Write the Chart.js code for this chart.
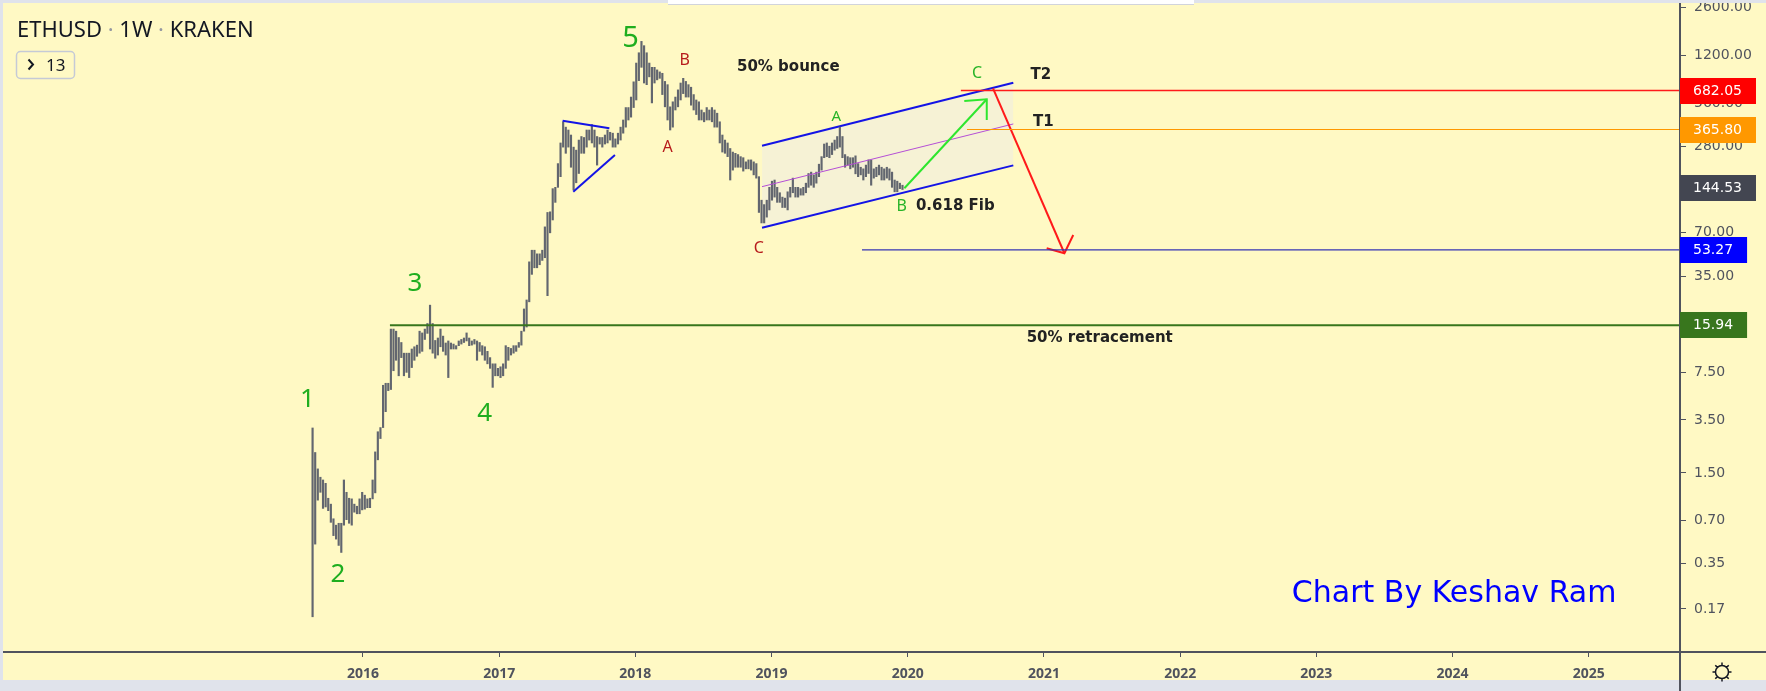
<!DOCTYPE html>
<html>
<head>
<meta charset="utf-8">
<title>ETHUSD 1W KRAKEN</title>
<script src="https://cdn.jsdelivr.net/npm/chart.js@4.4.1/dist/chart.umd.min.js"></script>
<style>
  html, body { margin: 0; padding: 0; background: #e0e3eb; }
  #wrap { position: relative; width: 1766px; height: 691px; }
</style>
</head>
<body>
<div id="wrap"><canvas id="eth"></canvas></div>
<script>
// weekly ETHUSD bars (Kraken), low / high
var weekLows = [
  0.15, 0.48, 0.97, 1.1, 0.85, 0.87, 0.82, 0.68, 0.55, 0.52,
  0.47, 0.42, 0.65, 0.71, 0.67, 0.65, 0.8, 0.78, 0.78, 0.83,
  0.84, 0.86, 0.86, 0.99, 1.09, 1.85, 2.6, 3.1, 4.0, 5.6,
  5.7, 7.7, 9.1, 7.1, 9.5, 7.1, 7.5, 6.9, 8.1, 9.1,
  9.7, 10.2, 10.5, 12.7, 14.0, 10.9, 10.2, 9.4, 9.9, 11.3,
  10.5, 9.9, 6.9, 10.9, 10.9, 10.9, 11.5, 11.8, 12.1, 12.4,
  11.5, 11.6, 11.8, 9.1, 10.5, 9.9, 9.1, 8.6, 8.0, 5.9,
  7.1, 7.1, 6.9, 7.1, 8.0, 9.1, 9.9, 10.2, 10.5, 11.2,
  11.6, 14.5, 15.5, 23.2, 36, 40, 40, 42, 45, 47,
  25.6, 70, 86, 114, 145, 172, 276, 250, 276, 200,
  139, 156, 181, 250, 250, 276, 309, 295, 276, 207,
  290, 276, 290, 295, 309, 276, 276, 290, 309, 345,
  380, 426, 446, 520, 587, 800, 990, 770, 750, 850,
  560, 770, 810, 830, 640, 526, 426, 363, 380, 500,
  526, 587, 650, 615, 615, 540, 500, 465, 426, 426,
  414, 426, 426, 414, 380, 380, 295, 255, 250, 237,
  163, 191, 200, 200, 200, 188, 195, 195, 191, 177,
  168, 97, 82, 82, 90, 101, 118, 124, 114, 114,
  105, 105, 101, 124, 133, 124, 124, 128, 128, 133,
  145, 150, 145, 155, 172, 191, 233, 237, 233, 245,
  263, 270, 276, 233, 200, 207, 195, 200, 180, 172,
  177, 163, 172, 181, 150, 168, 172, 177, 163, 163,
  168, 163, 145, 135, 135, 142, 140
];
var weekHighs = [
  3.08, 2.08, 1.6, 1.4, 1.34, 1.27, 1.0, 0.91, 0.72, 0.65,
  0.67, 0.67, 1.34, 1.1, 1.0, 0.99, 0.91, 0.88, 0.99, 1.1,
  1.05, 0.99, 1.0, 1.34, 2.1, 2.9, 3.1, 6.1, 6.3, 6.3,
  15.0, 15.0, 14.5, 13.1, 12.1, 10.2, 10.2, 10.2, 10.9, 11.3,
  11.6, 14.5, 14.1, 15.0, 16.4, 22.0, 16.4, 12.5, 13.0, 15.0,
  13.4, 12.0, 12.4, 12.0, 11.8, 11.5, 12.4, 12.7, 13.0, 14.1,
  13.0, 12.4, 12.7, 12.4, 12.1, 11.5, 11.3, 10.5, 9.5, 8.6,
  8.6, 8.0, 8.2, 8.6, 11.5, 11.2, 11.0, 11.5, 11.5, 12.1,
  14.5, 20.7, 23.9, 44, 53, 53, 50, 50, 53, 77,
  97, 98, 142, 145, 212, 295, 414, 380, 363, 335,
  276, 263, 309, 327, 322, 363, 363, 396, 363, 327,
  322, 322, 335, 363, 350, 345, 315, 345, 380, 426,
  520, 520, 615, 785, 1060, 1250, 1500, 1400, 1250, 1060,
  990, 990, 950, 920, 900, 790, 750, 526, 570, 615,
  690, 770, 830, 790, 750, 720, 640, 587, 570, 500,
  480, 520, 500, 520, 500, 475, 414, 335, 309, 295,
  270, 255, 250, 245, 237, 233, 218, 225, 225, 218,
  212, 172, 118, 110, 118, 145, 160, 163, 145, 133,
  124, 122, 135, 145, 168, 145, 145, 142, 145, 155,
  181, 185, 177, 185, 210, 237, 290, 295, 280, 295,
  309, 327, 380, 327, 245, 237, 233, 233, 240, 212,
  200, 195, 207, 225, 225, 195, 200, 207, 200, 195,
  200, 195, 185, 163, 160, 155, 150
];
var firstWeek = 2015.63;          // mid August 2015, first Kraken week
var weekStep = 7 / 365.25;

var yearTicks = [2016, 2017, 2018, 2019, 2020, 2021, 2022, 2023, 2024, 2025];
var priceTicks = [0.17, 0.35, 0.7, 1.5, 3.5, 7.5, 15, 35, 70, 140, 280, 560, 1200, 2600];

// price levels marked on the right scale
var levelValues = [682.05, 365.80, 144.53, 53.27, 15.94];
var levelColors = ['#ff0000', '#ff9800', '#434651', '#0000ff', '#38761d'];

// drawn lines, [year, price] pairs
var channelTop = [[2018.93, 282], [2020.775, 774]];
var channelBottom = [[2018.93, 76], [2020.775, 206]];
var channelMid = [[2018.93, 146.6], [2020.775, 400]];
var triangleTop = [[2017.466, 421], [2017.809, 373]];
var triangleBottom = [[2017.544, 135.2], [2017.85, 243]];
var greenArrow = [[2019.975, 142.8], [2020.58, 593.6]];
var greenHead = [[2020.415, 577.6], [2020.58, 593.6], [2020.58, 426]];
var redArrow = [[2020.626, 707.8], [2021.15, 50.5]];
var redHead = [[2021.02, 54.7], [2021.15, 50.5], [2021.215, 67.6]];
var lineT2 = [[2020.39, 682.05], [2025.67, 682.05]];
var lineT1 = [[2020.435, 365.80], [2025.67, 365.80]];
var lineLow = [[2019.664, 53.27], [2025.67, 53.27]];
var lineHalf = [[2016.198, 15.94], [2025.67, 15.94]];

var waveGreen = '#1fae1f';
var notes = [
  { text: '1', x: 2015.593, y: 4.86, color: waveGreen, font: '26px "Noto Sans"' },
  { text: '2', x: 2015.816, y: 0.293, color: waveGreen, font: '26px "Noto Sans"' },
  { text: '3', x: 2016.382, y: 30.9, color: waveGreen, font: '26px "Noto Sans"' },
  { text: '4', x: 2016.894, y: 3.85, color: waveGreen, font: '26px "Noto Sans"' },
  { text: '5', x: 2017.964, y: 1563, color: waveGreen, font: '29px "Noto Sans"' },
  { text: 'A', x: 2018.237, y: 274, color: '#b71c1c', font: '16px "Noto Sans"' },
  { text: 'B', x: 2018.362, y: 1104, color: '#b71c1c', font: '16px "Noto Sans"' },
  { text: 'C', x: 2018.907, y: 54.2, color: '#b71c1c', font: '16px "Noto Sans"' },
  { text: 'A', x: 2019.475, y: 449, color: '#28b428', font: '15px "Noto Sans"' },
  { text: 'B', x: 2019.955, y: 106.4, color: '#28b428', font: '16px "Noto Sans"' },
  { text: 'C', x: 2020.508, y: 904, color: '#28b428', font: '16px "Noto Sans"' },
  { text: '50% bounce', x: 2018.746, y: 1000, color: '#222', font: 'bold 15px "DejaVu Sans"', left: true },
  { text: '0.618 Fib', x: 2020.06, y: 108, color: '#222', font: 'bold 15px "DejaVu Sans"', left: true },
  { text: 'T2', x: 2020.902, y: 876, color: '#222', font: 'bold 15px "DejaVu Sans"', left: true },
  { text: 'T1', x: 2020.919, y: 414.6, color: '#222', font: 'bold 15px "DejaVu Sans"', left: true },
  { text: '50% retracement', x: 2020.873, y: 13.07, color: '#222', font: 'bold 15px "DejaVu Sans"', left: true },
  { text: 'Chart By Keshav Ram', x: 2022.82, y: 0.217, color: '#0000ff', font: '30px "DejaVu Sans"', left: true }
];

function pts(list) {
  return list.map(function (p) { return { x: p[0], y: p[1] }; });
}
function seg(list, color, width, extra) {
  var ds = {
    type: 'line', data: pts(list), borderColor: color, borderWidth: width,
    pointRadius: 0, fill: false, tension: 0, order: 1
  };
  for (var k in extra) ds[k] = extra[k];
  return ds;
}

var bars = [];
for (var i = 0; i < weekLows.length; i++) {
  bars.push({ x: firstWeek + i * weekStep, y: [weekLows[i], weekHighs[i]] });
}

var paneColor = '#fff9c4';
var frameColor = '#e0e3eb';
var axisColor = '#50535e';

var decor = {
  id: 'decor',
  beforeDraw: function (chart) {
    var ctx = chart.ctx;
    ctx.save();
    ctx.fillStyle = frameColor;
    ctx.fillRect(0, 0, chart.width, chart.height);
    ctx.fillStyle = paneColor;
    ctx.fillRect(3, 3, chart.width - 3, 677);
    ctx.restore();
  },
  afterDatasetsDraw: function (chart) {
    var ctx = chart.ctx, xs = chart.scales.x, ys = chart.scales.y;
    ctx.save();
    notes.forEach(function (n) {
      ctx.font = n.font;
      ctx.fillStyle = n.color;
      ctx.textAlign = n.left ? 'left' : 'center';
      ctx.textBaseline = 'middle';
      ctx.fillText(n.text, xs.getPixelForValue(n.x), ys.getPixelForValue(n.y));
    });
    ctx.restore();
  },
  afterDraw: function (chart) {
    var ctx = chart.ctx, area = chart.chartArea, ys = chart.scales.y;
    ctx.save();
    // axis frame
    ctx.strokeStyle = axisColor;
    ctx.lineWidth = 2;
    ctx.beginPath();
    ctx.moveTo(area.right, 0);
    ctx.lineTo(area.right, chart.height);
    ctx.moveTo(3, area.bottom);
    ctx.lineTo(chart.width, area.bottom);
    ctx.stroke();

    // price level tags
    ctx.font = '14px "DejaVu Sans"';
    ctx.textBaseline = 'middle';
    ctx.textAlign = 'left';
    levelValues.forEach(function (v, k) {
      var py = ys.getPixelForValue(v);
      var label = v.toFixed(2);
      var w = 13 + ctx.measureText(label).width + 14;
      ctx.fillStyle = levelColors[k];
      ctx.fillRect(area.right, Math.round(py) - 13, w, 26);
      ctx.fillStyle = '#ffffff';
      ctx.fillText(label, area.right + 13, py + 0.5);
    });

    // clip top strip
    ctx.fillStyle = frameColor;
    ctx.fillRect(0, 0, chart.width, 3);
    ctx.fillRect(0, 680, area.right - 1, chart.height - 680);
    ctx.fillRect(area.right + 1, 680, chart.width, chart.height - 680);
    ctx.fillStyle = '#ffffff';
    ctx.fillRect(668, 0, 526, 4);
    ctx.fillStyle = '#d1d4dc';
    ctx.fillRect(668, 4, 526, 1);

    // symbol header
    ctx.textBaseline = 'alphabetic';
    ctx.font = '22px "Noto Sans"';
    var parts = [['ETHUSD', '#131722'], [' \u00b7 ', '#9598a1'], ['1W', '#131722'], [' \u00b7 ', '#9598a1'], ['KRAKEN', '#131722']];
    var tx = 17;
    parts.forEach(function (p) {
      ctx.fillStyle = p[1];
      ctx.fillText(p[0], tx, 36.5);
      tx += ctx.measureText(p[0]).width;
    });

    // collapsed indicators box
    ctx.strokeStyle = '#c5cad6';
    ctx.lineWidth = 1.5;
    ctx.beginPath();
    ctx.roundRect(16.5, 51.5, 58, 27, 4);
    ctx.stroke();
    ctx.strokeStyle = '#131722';
    ctx.lineWidth = 2;
    ctx.beginPath();
    ctx.moveTo(28.5, 59.5);
    ctx.lineTo(33, 64.5);
    ctx.lineTo(28.5, 69.5);
    ctx.stroke();
    ctx.fillStyle = '#131722';
    ctx.font = '17px "Noto Sans"';
    ctx.fillText('13', 46, 71);

    // settings icon
    var cx = 1722, cy = 672;
    ctx.lineWidth = 1.5;
    ctx.beginPath();
    ctx.arc(cx, cy, 6.5, 0, Math.PI * 2);
    for (var a = 0; a < 8; a++) {
      var ang = a * Math.PI / 4;
      ctx.moveTo(cx + Math.cos(ang) * 6.5, cy + Math.sin(ang) * 6.5);
      ctx.lineTo(cx + Math.cos(ang) * 9.5, cy + Math.sin(ang) * 9.5);
    }
    ctx.stroke();
    ctx.restore();
  }
};

var ctx = document.getElementById('eth');
new Chart(ctx, {
  type: 'bar',
  data: {
    datasets: [
      seg(lineHalf, '#38761d', 2),
      seg(lineT2, '#ff1a1a', 1.5),
      seg(lineT1, '#ff9800', 1.2),
      seg(lineLow, '#3434b4', 1.2),
      seg(greenArrow, '#2ee62e', 2),
      seg(greenHead, '#2ee62e', 2),
      seg(redArrow, '#ff1a1a', 2),
      seg(redHead, '#ff1a1a', 2),
      seg(triangleTop, '#1414e6', 2),
      seg(triangleBottom, '#1414e6', 2),
      seg(channelMid, '#b54fd6', 1, { order: 4 }),
      seg(channelTop, '#1414e6', 2, { order: 8 }),
      seg(channelBottom, '#1414e6', 2, { order: 8, fill: '-1', backgroundColor: 'rgba(228,228,249,0.32)' }),
      {
        type: 'bar', label: 'ETHUSD', data: bars,
        backgroundColor: '#62666f', borderWidth: 0, barThickness: 1.5, order: 5
      }
    ]
  },
  options: {
    responsive: true,
    maintainAspectRatio: false,
    animation: false,
    devicePixelRatio: 1,
    layout: { padding: { left: 3, top: 3, right: 0, bottom: 0 } },
    plugins: { legend: { display: false }, tooltip: { enabled: false } },
    scales: {
      x: {
        type: 'linear', min: 2013.357, max: 2025.67, offset: false, bounds: 'data',
        afterBuildTicks: function (s) { s.ticks = yearTicks.map(function (v) { return { value: v }; }); },
        afterFit: function (s) { s.height = 39; s.paddingLeft = 0; s.paddingRight = 0; },
        grid: { offset: false, drawOnChartArea: false, drawTicks: true, tickLength: 5, tickColor: axisColor, tickWidth: 1 },
        border: { display: false },
        ticks: {
          autoSkip: false, maxRotation: 0, padding: 9, color: axisColor,
          font: { family: 'Noto Sans', size: 14, weight: 'bold' },
          callback: function (v) { return String(v); }
        }
      },
      y: {
        type: 'logarithmic', position: 'right', min: 0.08535, max: 2772, bounds: 'data',
        afterBuildTicks: function (s) { s.ticks = priceTicks.map(function (v) { return { value: v }; }); },
        afterFit: function (s) { s.width = 86; s.paddingTop = 0; s.paddingBottom = 0; },
        grid: { drawOnChartArea: false, drawTicks: true, tickLength: 6, tickColor: axisColor, tickWidth: 1 },
        border: { display: false },
        ticks: {
          autoSkip: false, padding: 8, color: axisColor,
          font: { family: 'DejaVu Sans', size: 14 },
          callback: function (v) { return Number(v).toFixed(2); }
        }
      }
    }
  },
  plugins: [decor]
});
</script>
</body>
</html>
